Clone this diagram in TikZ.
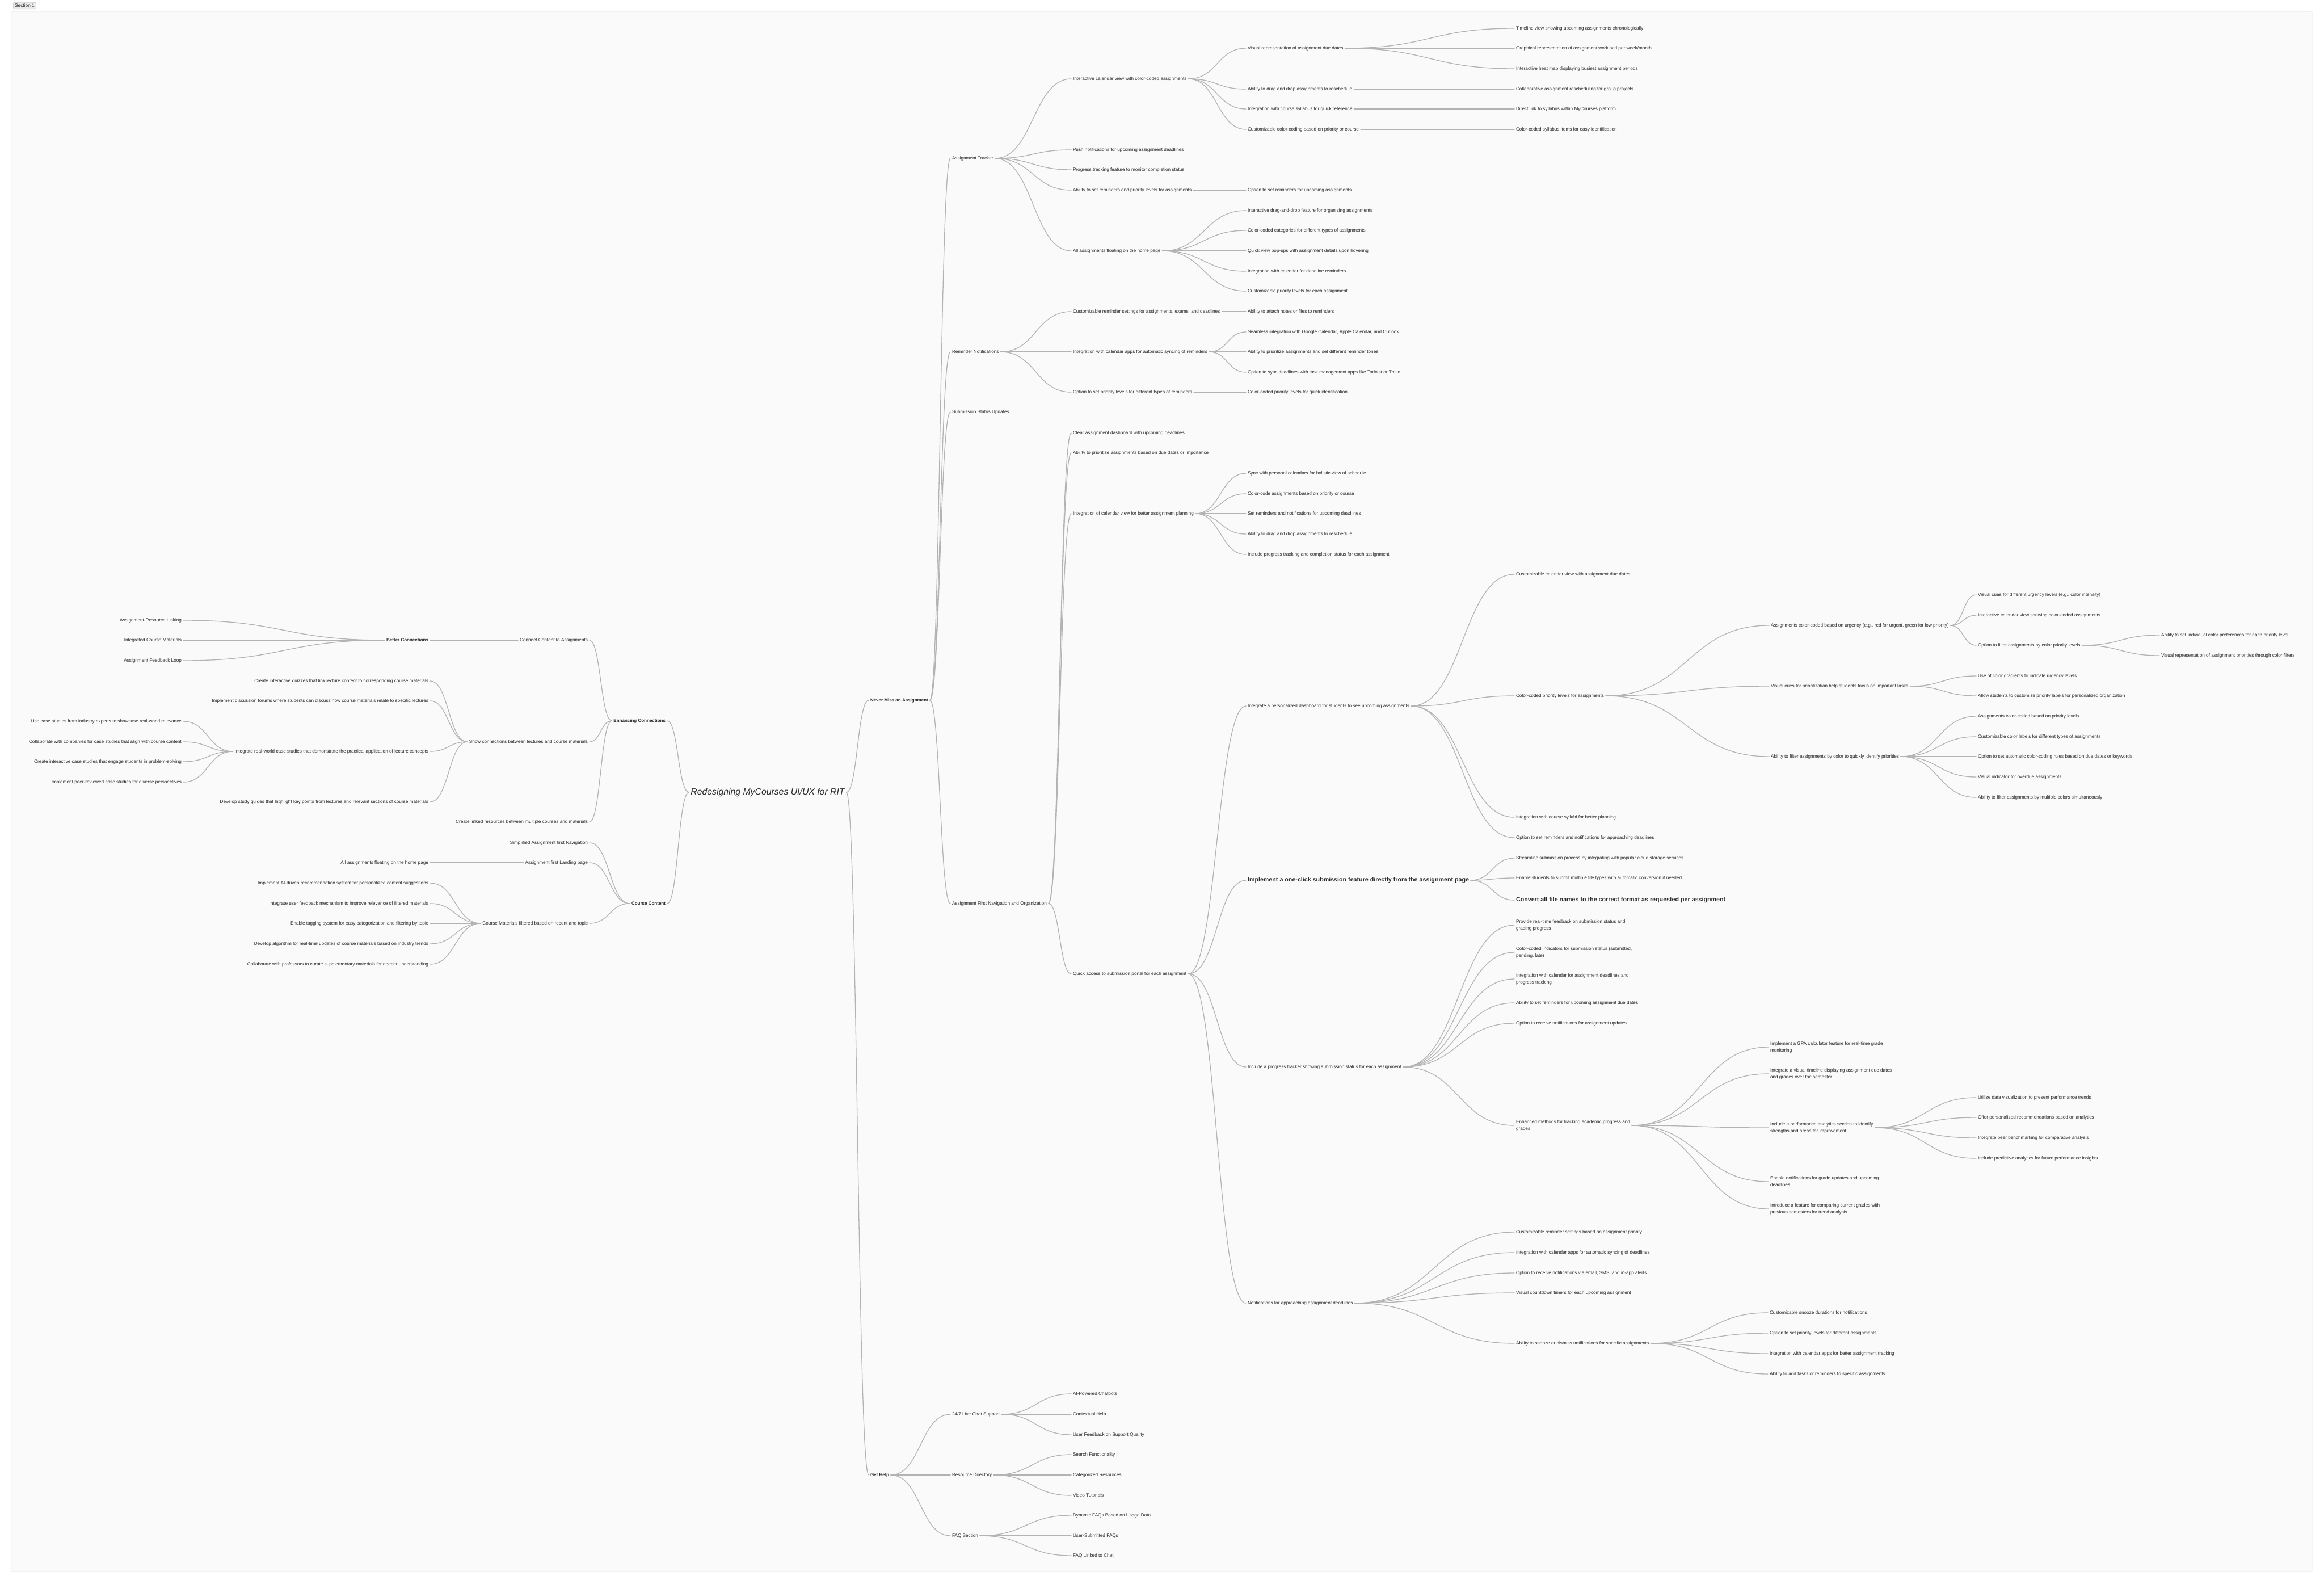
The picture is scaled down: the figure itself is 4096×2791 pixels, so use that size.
\documentclass[tikz,border=0pt]{standalone}
\usepackage{fontspec}
\setmainfont{Liberation Sans}
\usetikzlibrary{calc}
\definecolor{txt}{HTML}{2B2B2B}
\definecolor{lnk}{HTML}{B3B3B3}
\definecolor{panel}{HTML}{FAFAFA}
\definecolor{panelb}{HTML}{E4E4E4}
\definecolor{tagf}{HTML}{EBEBEB}
\definecolor{tagb}{HTML}{BBBBBB}
\newcommand\linkR[2]{\draw[conn] let \p1=([xshift=3pt]#1.east), \p2=([xshift=-3pt]#2.west) in (\p1) .. controls ({(\x1+\x2)/2},\y1) and ({(\x1+\x2)/2},\y2) .. (\p2);}
\newcommand\linkL[2]{\draw[conn] let \p1=([xshift=-3pt]#1.west), \p2=([xshift=3pt]#2.east) in (\p1) .. controls ({(\x1+\x2)/2},\y1) and ({(\x1+\x2)/2},\y2) .. (\p2);}
\tikzset{
  nd/.style={inner sep=0pt, outer sep=0pt, text=txt, font=\fontsize{8.2}{12}\selectfont, anchor=west, text height=6.2pt, text depth=1.8pt},
  ndl/.style={nd, anchor=east},
  ndb/.style={nd, font=\fontsize{8}{12}\selectfont\bfseries},
  ndbl/.style={ndb, anchor=east},
  ndbig/.style={nd, font=\fontsize{10.7}{13}\selectfont\bfseries, text height=8pt, text depth=2.4pt},
  ndw/.style={inner sep=0pt, outer sep=0pt, text=txt, font=\fontsize{8.2}{12}\selectfont, anchor=west, align=left},
  ndroot/.style={inner sep=0pt, outer sep=0pt, text=txt, font=\fontsize{15.8}{18}\selectfont\itshape},
  conn/.style={draw=lnk, line width=1.3pt, line cap=round},
}
\begin{document}
\begin{tikzpicture}[x=1pt,y=-1pt]
\useasboundingbox (0,0) rectangle (4096,2791);
\fill[white] (0,0) rectangle (4096,2791);
\draw[panelb, fill=panel, line width=0.8pt, rounded corners=2pt] (21,20) rectangle (4075,2769);
\node[draw=tagb, fill=tagf, rounded corners=2pt, line width=0.6pt, inner xsep=2.5pt, inner ysep=2pt, text=txt, font=\fontsize{8.3}{10}\selectfont, text height=6pt, text depth=1.8pt] (sec) at (43.5,10) {Section 1};

% root
\node[ndroot] (root) at (1353,1396) {Redesigning MyCourses UI/UX for RIT};

% ---------- right side ----------
\node[ndb] (nma) at (1534,1234) {Never Miss an Assignment};
\node[ndb] (gh) at (1534,2599) {Get Help};

\node[nd] (at) at (1678,279) {Assignment Tracker};
\node[nd] (rn) at (1678,620) {Reminder Notifications};
\node[nd] (ssu) at (1678,726) {Submission Status Updates};
\node[nd] (afn) at (1678,1592) {Assignment First Navigation and Organization};
\node[nd] (lcs) at (1678,2492) {24/7 Live Chat Support};
\node[nd] (rd) at (1678,2599) {Resource Directory};
\node[nd] (faq) at (1678,2706) {FAQ Section};

\node[nd] (icv) at (1891,139) {Interactive calendar view with color-coded assignments};
\node[nd] (pn) at (1891,264) {Push notifications for upcoming assignment deadlines};
\node[nd] (pt) at (1891,299) {Progress tracking feature to monitor completion status};
\node[nd] (asr) at (1891,335) {Ability to set reminders and priority levels for assignments};
\node[nd] (afh) at (1891,442) {All assignments floating on the home page};
\node[nd] (crs) at (1891,549) {Customizable reminder settings for assignments, exams, and deadlines};
\node[nd] (ica) at (1891,620) {Integration with calendar apps for automatic syncing of reminders};
\node[nd] (opl) at (1891,691) {Option to set priority levels for different types of reminders};
\node[nd] (cad) at (1891,763) {Clear assignment dashboard with upcoming deadlines};
\node[nd] (apa) at (1891,798) {Ability to prioritize assignments based on due dates or importance};
\node[nd] (icvp) at (1891,905) {Integration of calendar view for better assignment planning};
\node[nd] (qa) at (1891,1716) {Quick access to submission portal for each assignment};
\node[nd] (ai) at (1891,2456) {AI-Powered Chatbots};
\node[nd] (ch) at (1891,2492) {Contextual Help};
\node[nd] (uf) at (1891,2528) {User Feedback on Support Quality};
\node[nd] (sf) at (1891,2563) {Search Functionality};
\node[nd] (cr) at (1891,2599) {Categorized Resources};
\node[nd] (vt) at (1891,2635) {Video Tutorials};
\node[nd] (df) at (1891,2670) {Dynamic FAQs Based on Usage Data};
\node[nd] (us) at (1891,2706) {User-Submitted FAQs};
\node[nd] (fl) at (1891,2741) {FAQ Linked to Chat};

\node[nd] (vr) at (2199,85) {Visual representation of assignment due dates};
\node[nd] (add) at (2199,157) {Ability to drag and drop assignments to reschedule};
\node[nd] (ics) at (2199,192) {Integration with course syllabus for quick reference};
\node[nd] (ccc) at (2199,228) {Customizable color-coding based on priority or course};
\node[nd] (osr) at (2199,335) {Option to set reminders for upcoming assignments};
\node[nd] (idd) at (2199,371) {Interactive drag-and-drop feature for organizing assignments};
\node[nd] (ccat) at (2199,406) {Color-coded categories for different types of assignments};
\node[nd] (qv) at (2199,442) {Quick view pop-ups with assignment details upon hovering};
\node[nd] (icdr) at (2199,478) {Integration with calendar for deadline reminders};
\node[nd] (cpl) at (2199,513) {Customizable priority levels for each assignment};
\node[nd] (atn) at (2199,549) {Ability to attach notes or files to reminders};
\node[nd] (sig) at (2199,585) {Seamless integration with Google Calendar, Apple Calendar, and Outlook};
\node[nd] (apt) at (2199,620) {Ability to prioritize assignments and set different reminder tones};
\node[nd] (osd) at (2199,656) {Option to sync deadlines with task management apps like Todoist or Trello};
\node[nd] (ccp) at (2199,691) {Color-coded priority levels for quick identification};
\node[nd] (swp) at (2199,834) {Sync with personal calendars for holistic view of schedule};
\node[nd] (ccb) at (2199,870) {Color-code assignments based on priority or course};
\node[nd] (srn) at (2199,905) {Set reminders and notifications for upcoming deadlines};
\node[nd] (ddr) at (2199,941) {Ability to drag and drop assignments to reschedule};
\node[nd] (ipt) at (2199,977) {Include progress tracking and completion status for each assignment};
\node[nd] (ipd) at (2199,1244) {Integrate a personalized dashboard for students to see upcoming assignments};
\node[ndbig] (oc) at (2199,1551) {Implement a one-click submission feature directly from the assignment page};
\node[nd] (ipg) at (2199,1880) {Include a progress tracker showing submission status for each assignment};
\node[nd] (nfa) at (2199,2296) {Notifications for approaching assignment deadlines};

\node[nd] (tv) at (2672,50) {Timeline view showing upcoming assignments chronologically};
\node[nd] (gr) at (2672,85) {Graphical representation of assignment workload per week/month};
\node[nd] (ih) at (2672,121) {Interactive heat map displaying busiest assignment periods};
\node[nd] (car) at (2672,157) {Collaborative assignment rescheduling for group projects};
\node[nd] (dls) at (2672,192) {Direct link to syllabus within MyCourses platform};
\node[nd] (ccs) at (2672,228) {Color-coded syllabus items for easy identification};
\node[nd] (ccv) at (2672,1012) {Customizable calendar view with assignment due dates};
\node[nd] (cpa) at (2672,1226) {Color-coded priority levels for assignments};
\node[nd] (icsb) at (2672,1440) {Integration with course syllabi for better planning};
\node[nd] (osrn) at (2672,1476) {Option to set reminders and notifications for approaching deadlines};
\node[nd] (ss) at (2672,1512) {Streamline submission process by integrating with popular cloud storage services};
\node[nd] (es) at (2672,1547) {Enable students to submit multiple file types with automatic conversion if needed};
\node[ndbig] (ca) at (2672,1586) {Convert all file names to the correct format as requested per assignment};
\node[ndw] (prf) at (2672,1630) {Provide real-time feedback on submission status and\\grading progress};
\node[ndw] (cci) at (2672,1678) {Color-coded indicators for submission status (submitted,\\pending, late)};
\node[ndw] (icad) at (2672,1725) {Integration with calendar for assignment deadlines and\\progress tracking};
\node[nd] (asrd) at (2672,1767) {Ability to set reminders for upcoming assignment due dates};
\node[nd] (orn) at (2672,1803) {Option to receive notifications for assignment updates};
\node[ndw] (em) at (2672,1983) {Enhanced methods for tracking academic progress and\\grades};
\node[nd] (crsp) at (2672,2171) {Customizable reminder settings based on assignment priority};
\node[nd] (icd) at (2672,2207) {Integration with calendar apps for automatic syncing of deadlines};
\node[nd] (orne) at (2672,2243) {Option to receive notifications via email, SMS, and in-app alerts};
\node[nd] (vct) at (2672,2278) {Visual countdown timers for each upcoming assignment};
\node[nd] (asn) at (2672,2367) {Ability to snooze or dismiss notifications for specific assignments};

\node[nd] (acu) at (3121,1102) {Assignments color-coded based on urgency (e.g., red for urgent, green for low priority)};
\node[nd] (vcp) at (3121,1209) {Visual cues for prioritization help students focus on important tasks};
\node[nd] (afc) at (3121,1333) {Ability to filter assignments by color to quickly identify priorities};
\node[ndw] (gpa) at (3120,1845) {Implement a GPA calculator feature for real-time grade\\monitoring};
\node[ndw] (ivt) at (3120,1892) {Integrate a visual timeline displaying assignment due dates\\and grades over the semester};
\node[ndw] (ipa) at (3120,1987) {Include a performance analytics section to identify\\strengths and areas for improvement};
\node[ndw] (eng) at (3120,2082) {Enable notifications for grade updates and upcoming\\deadlines};
\node[ndw] (ifc) at (3120,2130) {Introduce a feature for comparing current grades with\\previous semesters for trend analysis};
\node[nd] (csd) at (3119,2313) {Customizable snooze durations for notifications};
\node[nd] (ospl) at (3119,2349) {Option to set priority levels for different assignments};
\node[nd] (icab) at (3119,2385) {Integration with calendar apps for better assignment tracking};
\node[nd] (aat) at (3119,2421) {Ability to add tasks or reminders to specific assignments};

\node[nd] (vcu) at (3486,1048) {Visual cues for different urgency levels (e.g., color intensity)};
\node[nd] (icvs) at (3486,1084) {Interactive calendar view showing color-coded assignments};
\node[nd] (ofa) at (3486,1137) {Option to filter assignments by color priority levels};
\node[nd] (ucg) at (3486,1191) {Use of color gradients to indicate urgency levels};
\node[nd] (asc) at (3486,1226) {Allow students to customize priority labels for personalized organization};
\node[nd] (acp) at (3486,1262) {Assignments color-coded based on priority levels};
\node[nd] (ccl) at (3486,1298) {Customizable color labels for different types of assignments};
\node[nd] (osa) at (3486,1333) {Option to set automatic color-coding rules based on due dates or keywords};
\node[nd] (vio) at (3486,1369) {Visual indicator for overdue assignments};
\node[nd] (afm) at (3486,1405) {Ability to filter assignments by multiple colors simultaneously};
\node[nd] (udv) at (3486,1934) {Utilize data visualization to present performance trends};
\node[nd] (opr) at (3486,1969) {Offer personalized recommendations based on analytics};
\node[nd] (ipb) at (3486,2005) {Integrate peer benchmarking for comparative analysis};
\node[nd] (ipi) at (3486,2041) {Include predictive analytics for future performance insights};

\node[nd] (asi) at (3809,1119) {Ability to set individual color preferences for each priority level};
\node[nd] (vra) at (3809,1155) {Visual representation of assignment priorities through color filters};

% ---------- left side ----------
\node[ndbl] (ec) at (1173,1270) {Enhancing Connections};
\node[ndbl] (cc) at (1173,1592) {Course Content};

\node[ndl] (cca) at (1036,1128) {Connect Content to Assignments};
\node[ndl] (sc) at (1036,1307) {Show connections between lectures and course materials};
\node[ndl] (clr) at (1036,1448) {Create linked resources between multiple courses and materials};
\node[ndl] (sa) at (1036,1485) {Simplified Assignment first Navigation};
\node[ndl] (afl) at (1036,1520) {Assignment first Landing page};
\node[ndl] (cmf) at (1036,1627) {Course Materials filtered based on recent and topic};

\node[ndbl] (bc) at (755,1128) {Better Connections};
\node[ndl] (ciq) at (755,1200) {Create interactive quizzes that link lecture content to corresponding course materials};
\node[ndl] (idf) at (755,1235) {Implement discussion forums where students can discuss how course materials relate to specific lectures};
\node[ndl] (irw) at (755,1324) {Integrate real-world case studies that demonstrate the practical application of lecture concepts};
\node[ndl] (dsg) at (755,1413) {Develop study guides that highlight key points from lectures and relevant sections of course materials};
\node[ndl] (aaf) at (755,1520) {All assignments floating on the home page};
\node[ndl] (aid) at (755,1556) {Implement AI-driven recommendation system for personalized content suggestions};
\node[ndl] (iuf) at (755,1592) {Integrate user feedback mechanism to improve relevance of filtered materials};
\node[ndl] (ets) at (755,1627) {Enable tagging system for easy categorization and filtering by topic};
\node[ndl] (daa) at (755,1663) {Develop algorithm for real-time updates of course materials based on industry trends};
\node[ndl] (cwp) at (755,1699) {Collaborate with professors to curate supplementary materials for deeper understanding};

\node[ndl] (arl) at (320,1093) {Assignment-Resource Linking};
\node[ndl] (icm) at (320,1128) {Integrated Course Materials};
\node[ndl] (afb) at (320,1164) {Assignment Feedback Loop};
\node[ndl] (ucs) at (320,1271) {Use case studies from industry experts to showcase real-world relevance};
\node[ndl] (cwc) at (320,1307) {Collaborate with companies for case studies that align with course content};
\node[ndl] (cic) at (320,1342) {Create interactive case studies that engage students in problem-solving};
\node[ndl] (iprc) at (320,1378) {Implement peer-reviewed case studies for diverse perspectives};

% ---------- connectors ----------
\linkR{root}{nma} \linkR{root}{gh}
\linkL{root}{ec} \linkL{root}{cc}

\foreach \c in {at,rn,ssu,afn} {\linkR{nma}{\c}}
\foreach \c in {icv,pn,pt,asr,afh} {\linkR{at}{\c}}
\foreach \c in {vr,add,ics,ccc} {\linkR{icv}{\c}}
\foreach \c in {tv,gr,ih} {\linkR{vr}{\c}}
\linkR{add}{car} \linkR{ics}{dls} \linkR{ccc}{ccs}
\linkR{asr}{osr}
\foreach \c in {idd,ccat,qv,icdr,cpl} {\linkR{afh}{\c}}
\foreach \c in {crs,ica,opl} {\linkR{rn}{\c}}
\linkR{crs}{atn}
\foreach \c in {sig,apt,osd} {\linkR{ica}{\c}}
\linkR{opl}{ccp}
\foreach \c in {cad,apa,icvp,qa} {\linkR{afn}{\c}}
\foreach \c in {swp,ccb,srn,ddr,ipt} {\linkR{icvp}{\c}}
\foreach \c in {ipd,oc,ipg,nfa} {\linkR{qa}{\c}}
\foreach \c in {ccv,cpa,icsb,osrn} {\linkR{ipd}{\c}}
\foreach \c in {acu,vcp,afc} {\linkR{cpa}{\c}}
\foreach \c in {vcu,icvs,ofa} {\linkR{acu}{\c}}
\foreach \c in {asi,vra} {\linkR{ofa}{\c}}
\foreach \c in {ucg,asc} {\linkR{vcp}{\c}}
\foreach \c in {acp,ccl,osa,vio,afm} {\linkR{afc}{\c}}
\foreach \c in {ss,es,ca} {\linkR{oc}{\c}}
\foreach \c in {prf,cci,icad,asrd,orn,em} {\linkR{ipg}{\c}}
\foreach \c in {gpa,ivt,ipa,eng,ifc} {\linkR{em}{\c}}
\foreach \c in {udv,opr,ipb,ipi} {\linkR{ipa}{\c}}
\foreach \c in {crsp,icd,orne,vct,asn} {\linkR{nfa}{\c}}
\foreach \c in {csd,ospl,icab,aat} {\linkR{asn}{\c}}
\foreach \c in {lcs,rd,faq} {\linkR{gh}{\c}}
\foreach \c in {ai,ch,uf} {\linkR{lcs}{\c}}
\foreach \c in {sf,cr,vt} {\linkR{rd}{\c}}
\foreach \c in {df,us,fl} {\linkR{faq}{\c}}

\foreach \c in {cca,sc,clr} {\linkL{ec}{\c}}
\linkL{cca}{bc}
\foreach \c in {arl,icm,afb} {\linkL{bc}{\c}}
\foreach \c in {ciq,idf,irw,dsg} {\linkL{sc}{\c}}
\foreach \c in {ucs,cwc,cic,iprc} {\linkL{irw}{\c}}
\foreach \c in {sa,afl,cmf} {\linkL{cc}{\c}}
\linkL{afl}{aaf}
\foreach \c in {aid,iuf,ets,daa,cwp} {\linkL{cmf}{\c}}
\end{tikzpicture}
\end{document}
